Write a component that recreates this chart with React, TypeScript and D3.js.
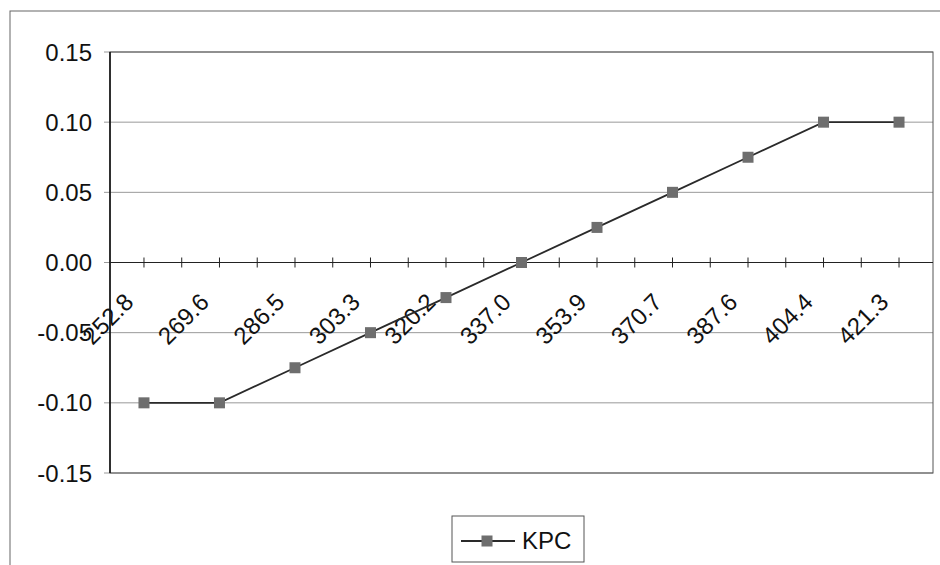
import React from 'react';
import * as d3 from 'd3';

const categories = ['252.8', '269.6', '286.5', '303.3', '320.2', '337.0', '353.9', '370.7', '387.6', '404.4', '421.3'];
const kpcValues = [-0.1, -0.1, -0.075, -0.05, -0.025, 0, 0.025, 0.05, 0.075, 0.1, 0.1];
const yTicks = [-0.15, -0.1, -0.05, 0, 0.05, 0.1, 0.15];
const seriesName = 'KPC';

const W = 940;
const H = 565;
const plot = { left: 110, top: 52, right: 933, bottom: 473 };
const font = '"Liberation Sans", Arial, sans-serif';

// Excel style: plain hyphen for negatives
const fmt = (v: number) => d3.format('.2f')(v).replace('\u2212', '-');

const App: React.FC = () => {
  const x = d3.scalePoint<string>().domain(categories).range([plot.left, plot.right]).padding(0.45);
  const y = d3.scaleLinear().domain([-0.15, 0.15]).range([plot.bottom, plot.top]);
  const zeroY = y(0);

  // ticks sit on each category and halfway between neighbours
  const tickXs: number[] = [];
  categories.forEach((c, i) => {
    tickXs.push(x(c)!);
    if (i < categories.length - 1) tickXs.push((x(c)! + x(categories[i + 1])!) / 2);
  });

  const line = d3.line<number>()
    .x((_, i) => x(categories[i])!)
    .y(d => y(d));

  const marker = 11;

  return (
    <div style={{ position: 'absolute', left: 0, top: 0 }}>
      <svg width={W} height={H} viewBox={`0 0 ${W} ${H}`} style={{ display: 'block', background: '#fff' }}>
        {/* chart frame */}
        <rect x={10} y={11} width={W} height={H} fill="none" stroke="#666" strokeWidth={1} />

        {/* gridlines */}
        {yTicks.map(t => (
          <line key={t} x1={plot.left - 6} x2={plot.right} y1={y(t)} y2={y(t)} stroke="#999" strokeWidth={1} />
        ))}

        {/* plot area border */}
        <rect x={plot.left} y={plot.top} width={plot.right - plot.left} height={plot.bottom - plot.top}
          fill="none" stroke="#555" strokeWidth={1} />

        {/* y axis */}
        <line x1={plot.left} x2={plot.left} y1={plot.top} y2={plot.bottom} stroke="#111" strokeWidth={1.6} />
        {yTicks.map(t => (
          <text key={t} x={plot.left - 18} y={y(t)} textAnchor="end" dominantBaseline="central"
            fontFamily={font} fontSize={24} fill="#111">
            {fmt(t)}
          </text>
        ))}

        {/* x axis on zero line */}
        <line x1={plot.left} x2={plot.right} y1={zeroY} y2={zeroY} stroke="#222" strokeWidth={1.2} />
        {tickXs.map((tx, i) => (
          <line key={i} x1={tx} x2={tx} y1={zeroY - 5} y2={zeroY + 5} stroke="#222" strokeWidth={1} />
        ))}
        {categories.map(c => (
          <text key={c} transform={`translate(${x(c)! - 9}, ${zeroY + 41}) rotate(-45)`} textAnchor="end"
            fontFamily={font} fontSize={24} fill="#111">
            {c}
          </text>
        ))}

        {/* series */}
        <path d={line(kpcValues) || undefined} fill="none" stroke="#2a2a2a" strokeWidth={1.8} />
        {kpcValues.map((v, i) => (
          <rect key={i} x={x(categories[i])! - marker / 2} y={y(v) - marker / 2} width={marker} height={marker}
            fill="#6e6e6e" />
        ))}

        {/* legend */}
        <rect x={452} y={516} width={132} height={46} fill="#fff" stroke="#555" strokeWidth={1} />
        <line x1={461} x2={515} y1={541} y2={541} stroke="#2a2a2a" strokeWidth={1.8} />
        <rect x={487 - marker / 2} y={541 - marker / 2} width={marker} height={marker} fill="#6e6e6e" />
        <text x={522} y={549} fontFamily={font} fontSize={24} fill="#111">{seriesName}</text>
      </svg>
    </div>
  );
};

export default App;
